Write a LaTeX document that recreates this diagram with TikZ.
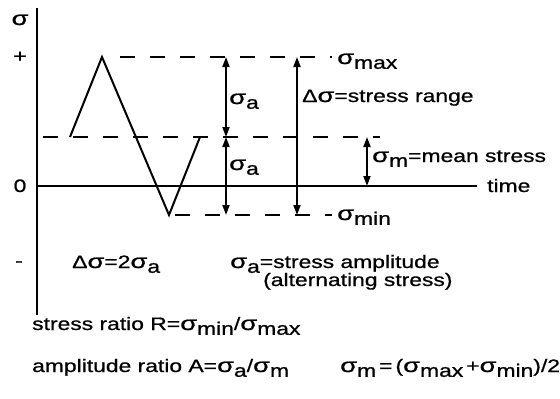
\documentclass[tikz,border=0pt]{standalone}
\usepackage{fontspec}
\setmainfont[FakeStretch=1.27,FakeBold=0.8]{Liberation Sans}
\usetikzlibrary{arrows.meta}
\newcommand\lo[1]{\raisebox{-0.5ex}{#1}}
\newcommand\sg{\scalebox{1.2}[1.1]{σ}}
\begin{document}
\begin{tikzpicture}[x=1pt,y=-1pt,
  txt/.style={anchor=base west,inner sep=0pt,font=\fontsize{18}{20}\selectfont},
  solidline/.style={line width=2pt},
  dashline/.style={line width=2pt,dash pattern=on 15pt off 15pt},
  dimarrow/.style={line width=1.8pt,{Triangle[length=10pt,width=7pt]}-{Triangle[length=10pt,width=7pt]}}]
\useasboundingbox (0,0) rectangle (560,399);
% axes
\coordinate (ytop) at (37,8);
\coordinate (ybot) at (37,315);
\coordinate (xl) at (37,186);
\coordinate (xr) at (477,186);
\draw[solidline] (ytop) -- (ybot);
\draw[solidline] (xl) -- (xr);
% levels
\coordinate (maxL) at (120,57);  \coordinate (maxR) at (332,57);
\coordinate (meanL) at (43,137); \coordinate (meanR) at (380,137);
\coordinate (minL) at (175,215); \coordinate (minR) at (332,215);
\draw[dashline] (maxL) -- (maxR);
\draw[dashline] (meanL) -- (meanR);
\draw[dashline] (minL) -- (minR);
% waveform
\coordinate (w0) at (70,137);
\coordinate (w1) at (102,57);
\coordinate (w2) at (169,215);
\coordinate (w3) at (200,137);
\draw[solidline,line join=miter] (w0) -- (w1) -- (w2) -- (w3);
% arrows
\coordinate (a1) at (226,57); \coordinate (a2) at (226,137); \coordinate (a3) at (226,215);
\draw[dimarrow] (a1) -- (a2);
\draw[dimarrow] (a2) -- (a3);
\coordinate (b1) at (297,57); \coordinate (b2) at (297,215);
\draw[dimarrow] (b1) -- (b2);
\coordinate (c1) at (367,137); \coordinate (c2) at (367,186);
\draw[dimarrow] (c1) -- (c2);
% axis labels
\node[txt,anchor=base] (lsig) at (20,25) {\sg};
\node[txt,anchor=center] (lplus) at (20,57) {+};
\node[txt,anchor=base] (lzero) at (20,192) {0};
\node[txt,anchor=center] (lminus) at (19,264) {-};
% labels
\node[txt] (lmax) at (337,64) {\sg\lo{max}};
\node[txt] (lmin) at (337,220) {\sg\lo{min}};
\node[txt] (lrange) at (302,102) {Δ\sg=stress range};
\node[txt] (la1) at (229,104) {\sg\lo{a}};
\node[txt] (la2) at (229,170) {\sg\lo{a}};
\node[txt] (lmean) at (372,162) {\sg\lo{m}=mean stress};
\node[txt] (ltime) at (487,192) {time};
\node[txt] (ld) at (72,268) {Δ\sg=2\sg\lo{a}};
\node[txt] (lamp) at (230,268) {\sg\lo{a}=stress amplitude};
\node[txt] (lalt) at (263,286) {(alternating stress)};
\node[txt] (lR) at (32,330) {stress ratio R=\sg\lo{min}/\sg\lo{max}};
\node[txt] (lA) at (32,372) {amplitude ratio A=\sg\lo{a}/\sg\lo{m}};
\node[txt] (lsm) at (340,372) {\sg\lo{m}\,=\,(\sg\lo{max}\,+\sg\lo{min})/2};
\end{tikzpicture}
\end{document}
